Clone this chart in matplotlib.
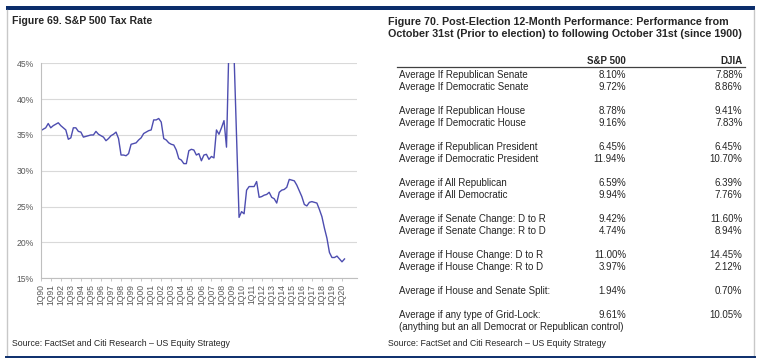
import matplotlib
matplotlib.use("Agg")
import matplotlib.pyplot as plt
from matplotlib import font_manager as fm
from matplotlib.lines import Line2D
from matplotlib.patches import Rectangle

# ---------------- data ----------------
tax_rate = [
    35.6, 35.8, 36.0, 36.6, 36.0, 36.3, 36.5, 36.7, 36.3, 36.0,   # 1Q90..2Q92
    35.7, 34.4, 34.6, 36.0, 36.0, 35.5, 35.4, 34.7, 34.8, 34.9,   # 3Q92..4Q94
    35.0, 35.0, 35.5, 35.1, 34.9, 34.7, 34.2, 34.5, 34.9, 35.1,   # 1Q95..2Q97
    35.4, 34.5, 32.2, 32.2, 32.1, 32.4, 33.7, 33.8, 33.9, 34.3,   # 3Q97..4Q99
    34.6, 35.2, 35.4, 35.6, 35.7, 37.1, 37.1, 37.3, 36.8, 34.5,   # 1Q00..2Q02
    34.3, 33.9, 33.7, 33.6, 32.9, 31.7, 31.5, 31.0, 31.0, 32.8,   # 3Q02..4Q04
    33.0, 32.9, 32.2, 32.4, 31.4, 32.2, 32.3, 31.6, 32.0, 31.8,   # 1Q05..2Q07
    35.7, 35.1, 36.0, 37.0, 33.3, 48.0, 70.0, 46.2, 34.8, 23.5,   # 3Q07..4Q09
    24.3, 24.0, 27.3, 27.8, 27.8, 27.8, 28.5, 26.3, 26.4, 26.6,   # 1Q10..2Q12
    26.7, 27.0, 26.3, 26.1, 25.5, 27.0, 27.3, 27.4, 27.7, 28.8,   # 3Q12..4Q14
    28.7, 28.6, 28.0, 27.2, 26.4, 25.3, 25.1, 25.6, 25.7, 25.6,   # 1Q15..2Q17
    25.5, 24.6, 23.6, 22.0, 20.6, 18.6, 17.9, 17.9, 18.1, 17.7,   # 3Q17..4Q19
    17.3, 17.7,                                                   # 1Q20..2Q20
]
x_tick_labels = ["1Q90", "1Q91", "1Q92", "1Q93", "1Q94", "1Q95", "1Q96", "1Q97",
                 "1Q98", "1Q99", "1Q00", "1Q01", "1Q02", "1Q03", "1Q04", "1Q05",
                 "1Q06", "1Q07", "1Q08", "1Q09", "1Q10", "1Q11", "1Q12", "1Q13",
                 "1Q14", "1Q15", "1Q16", "1Q17", "1Q18", "1Q19", "1Q20"]
y_ticks = [15, 20, 25, 30, 35, 40, 45]

row_labels = [
    "Average If Republican Senate", "Average If Democratic Senate",
    "Average If Republican House", "Average If Democratic House",
    "Average if Republican President", "Average if Democratic President",
    "Average if All Republican", "Average if All Democratic",
    "Average if Senate Change: D to R", "Average if Senate Change: R to D",
    "Average if House Change: D to R", "Average if House Change: R to D",
    "Average if House and Senate Split:",
    "Average if any type of Grid-Lock:",
]
sp500_vals = ["8.10%", "9.72%", "8.78%", "9.16%", "6.45%", "11.94%", "6.59%",
              "9.94%", "9.42%", "4.74%", "11.00%", "3.97%", "1.94%", "9.61%"]
djia_vals = ["7.88%", "8.86%", "9.41%", "7.83%", "6.45%", "10.70%", "6.39%",
             "7.76%", "11.60%", "8.94%", "14.45%", "2.12%", "0.70%", "10.05%"]
group_sizes = [2, 2, 2, 2, 2, 2, 1, 1]
note_line = "(anything but an all Democrat or Republican control)"
col_headers = ["S&P 500", "DJIA"]

title_left = "Figure 69. S&P 500 Tax Rate"
title_right = ("Figure 70. Post-Election 12-Month Performance: Performance from\n"
               "October 31st (Prior to election) to following October 31st (since 1900)")
source = "Source: FactSet and Citi Research \u2013 US Equity Strategy"

# ---------------- fonts ----------------
names = {f.name for f in fm.fontManager.ttflist}
REG = "Liberation Sans" if "Liberation Sans" in names else "DejaVu Sans"
if "Liberation Sans Narrow" in names:
    NAR, nscale = "Liberation Sans Narrow", 1.0
else:
    NAR, nscale = REG, 0.84

W, H = 761, 361
fig = plt.figure(figsize=(W / 100, H / 100), dpi=100)
fig.patch.set_facecolor("white")


def fx(x):
    return x / W


def fy(y):
    return 1 - y / H


NAVY = "#0B2D6B"
TXT = "#262626"

# frame
fig.add_artist(Rectangle((fx(6), fy(10)), fx(755) - fx(6), fy(6) - fy(10),
                         transform=fig.transFigure, color=NAVY, lw=0))
for xx in (6.7, 754.3):
    fig.add_artist(Line2D([fx(xx), fx(xx)], [fy(10), fy(356)],
                          transform=fig.transFigure, color="#C8C8C8", lw=1.0))
fig.add_artist(Line2D([fx(6), fx(755)], [fy(357), fy(357)],
                      transform=fig.transFigure, color=NAVY, lw=1.4))

# titles / sources
fig.text(fx(12), fy(20.5), title_left, family=NAR, weight="bold",
         fontsize=9.0 * nscale, color=TXT, ha="left", va="center")
fig.text(fx(388), fy(28), title_right, family=NAR, weight="bold",
         fontsize=9.2 * nscale, color=TXT, ha="left", va="center", linespacing=1.25)
fig.text(fx(12), fy(344), source, family=NAR, fontsize=7.55 * nscale,
         color=TXT, ha="left", va="center")
fig.text(fx(388), fy(344), source, family=NAR, fontsize=7.55 * nscale,
         color=TXT, ha="left", va="center")

# ---------------- line chart ----------------
x0, x1, ytop, ybot = 40.7, 356.5, 63.3, 278.3
ax = fig.add_axes([fx(x0), fy(ybot), fx(x1) - fx(x0), fy(ytop) - fy(ybot)])
step = (342.0 - 40.7) / 120.0
ax.plot(range(len(tax_rate)), tax_rate, color="#4D4DB0", lw=1.0)
ax.set_xlim(0, (x1 - x0) / step)
ax.set_ylim(15, 45)
ax.set_yticks(y_ticks)
ax.set_yticklabels([f"{v}%" for v in y_ticks])
ax.set_xticks([4 * i for i in range(len(x_tick_labels))])
ax.set_xticklabels(x_tick_labels, rotation=90)
ax.grid(axis="y", color="#D9D9D9", lw=0.8)
ax.set_axisbelow(True)
for s in ("top", "right"):
    ax.spines[s].set_visible(False)
for s in ("left", "bottom"):
    ax.spines[s].set_color("#BFBFBF")
    ax.spines[s].set_linewidth(0.8)
ax.tick_params(axis="y", length=0, pad=5, labelsize=6.2, labelcolor="#595959")
ax.tick_params(axis="x", length=2.5, width=0.6, color="#BFBFBF", pad=1.5,
               labelsize=6.2, labelcolor="#595959")
for t in ax.get_xticklabels() + ax.get_yticklabels():
    t.set_family(REG)

# ---------------- table ----------------
lab_x, c1_x, c2_x = 399, 626, 742.5
hdr_y = 61.5
fig.text(fx(c1_x), fy(hdr_y), col_headers[0], family=REG, weight="bold",
         fontsize=7, color=TXT, ha="right", va="center")
fig.text(fx(c2_x), fy(hdr_y), col_headers[1], family=REG, weight="bold",
         fontsize=7, color=TXT, ha="right", va="center")
fig.add_artist(Line2D([fx(397), fx(745)], [fy(67), fy(67)],
                      transform=fig.transFigure, color="#404040", lw=0.9))

pitch, gap = 11.6, 12.8
y = 75.0
r = 0
for g in group_sizes:
    for _ in range(g):
        fig.text(fx(lab_x), fy(y), row_labels[r], family=REG, fontsize=7,
                 color=TXT, ha="left", va="center")
        fig.text(fx(c1_x), fy(y), sp500_vals[r], family=REG, fontsize=7,
                 color=TXT, ha="right", va="center")
        fig.text(fx(c2_x), fy(y), djia_vals[r], family=REG, fontsize=7,
                 color=TXT, ha="right", va="center")
        y += pitch
        r += 1
    y += gap
# note line below the last row
fig.text(fx(lab_x), fy(314 + 13.3), note_line, family=REG, fontsize=7,
         color=TXT, ha="left", va="center")

fig.savefig("out.png", dpi=100)
